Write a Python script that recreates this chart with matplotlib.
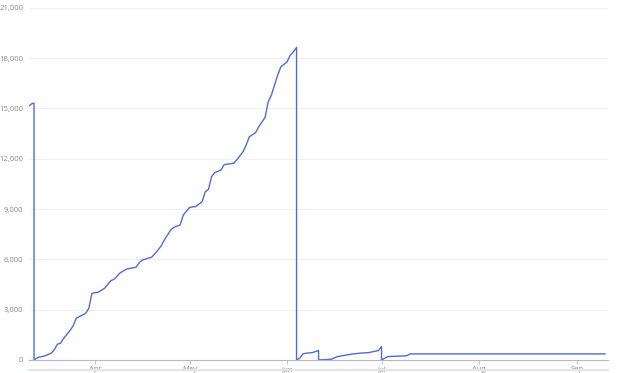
import numpy as np
import matplotlib.pyplot as plt
import matplotlib.dates as mdates
import pandas as pd

dates = [
    '2023-03-11', '2023-03-12', '2023-03-12 14:00', '2023-03-12 14:00', '2023-03-14',
    '2023-03-16', '2023-03-18', '2023-03-19', '2023-03-20', '2023-03-21',
    '2023-03-22', '2023-03-24', '2023-03-25', '2023-03-26', '2023-03-29',
    '2023-03-30', '2023-03-31', '2023-04-02', '2023-04-04', '2023-04-06',
    '2023-04-07', '2023-04-09', '2023-04-11', '2023-04-14', '2023-04-15',
    '2023-04-16', '2023-04-19', '2023-04-21', '2023-04-22', '2023-04-23',
    '2023-04-25', '2023-04-26', '2023-04-28', '2023-04-29', '2023-05-01',
    '2023-05-03', '2023-05-05', '2023-05-06', '2023-05-07', '2023-05-08',
    '2023-05-09', '2023-05-11', '2023-05-12', '2023-05-15', '2023-05-16',
    '2023-05-18', '2023-05-19', '2023-05-20', '2023-05-22', '2023-05-23',
    '2023-05-25', '2023-05-26', '2023-05-27', '2023-05-28', '2023-05-29',
    '2023-05-30', '2023-06-01', '2023-06-02', '2023-06-03', '2023-06-04',
    '2023-06-04', '2023-06-05', '2023-06-06', '2023-06-07', '2023-06-09',
    '2023-06-11', '2023-06-11', '2023-06-15', '2023-06-17', '2023-06-20',
    '2023-06-22', '2023-06-24', '2023-06-27', '2023-06-30', '2023-07-01',
    '2023-07-01', '2023-07-03', '2023-07-09', '2023-07-10', '2023-09-10',
]
values = [
    15150, 15300, 15300, 0, 160,
    240, 400, 600, 940, 1000,
    1290, 1750, 2030, 2490, 2780,
    3080, 3980, 4040, 4270, 4730,
    4810, 5200, 5420, 5530, 5800,
    5960, 6130, 6560, 6800, 7160,
    7750, 7910, 8050, 8640, 9100,
    9150, 9440, 10030, 10170, 10930,
    11170, 11330, 11650, 11730, 11930,
    12420, 12820, 13310, 13560, 13910,
    14470, 15400, 15790, 16390, 16990,
    17480, 17780, 18180, 18380, 18640,
    0, 100, 360, 400, 440,
    560, 0, 40, 200, 300,
    360, 400, 440, 560, 800,
    0, 200, 250, 360, 360,
]
y_ticks = [0, 3000, 6000, 9000, 12000, 15000, 18000, 21000]

x = pd.to_datetime(dates, format='mixed')

plt.rcParams['font.family'] = ['Open Sans', 'DejaVu Sans']
fig = plt.figure(figsize=(6.18, 3.73), dpi=100)
ax = fig.add_axes([0.047, 0.035, 0.937, 0.944])

ax.plot(x, values, color='#4f6cd6', linewidth=1.0)

ax.set_xlim(pd.Timestamp('2023-03-11'), pd.Timestamp('2023-09-11'))
ax.set_ylim(0, 21000)
ax.set_yticks(y_ticks)
ax.set_yticklabels([f'{v:,}' for v in y_ticks])
ax.xaxis.set_major_locator(mdates.MonthLocator())
ax.xaxis.set_major_formatter(mdates.DateFormatter('%b'))

ax.grid(axis='y', color='#eef0f6', linewidth=0.8)
ax.set_axisbelow(True)
for s in ['top', 'right', 'left']:
    ax.spines[s].set_visible(False)
ax.spines['bottom'].set_color('#b8b8c0')
ax.spines['bottom'].set_linewidth(0.8)
ax.tick_params(axis='y', length=0, labelsize=5.5, labelcolor='#8a8a8a', pad=4)
ax.tick_params(axis='x', length=3, width=0.6, color='#b8b8c0', labelsize=5.5,
               labelcolor='#8a8a8a', pad=1.5)

# slider bar under the axis
fig.add_artist(plt.Line2D([0.047, 0.984], [0.008, 0.008], color='#dfe6f3',
                          linewidth=1.5, transform=fig.transFigure))

plt.savefig('out.png', dpi=100)
